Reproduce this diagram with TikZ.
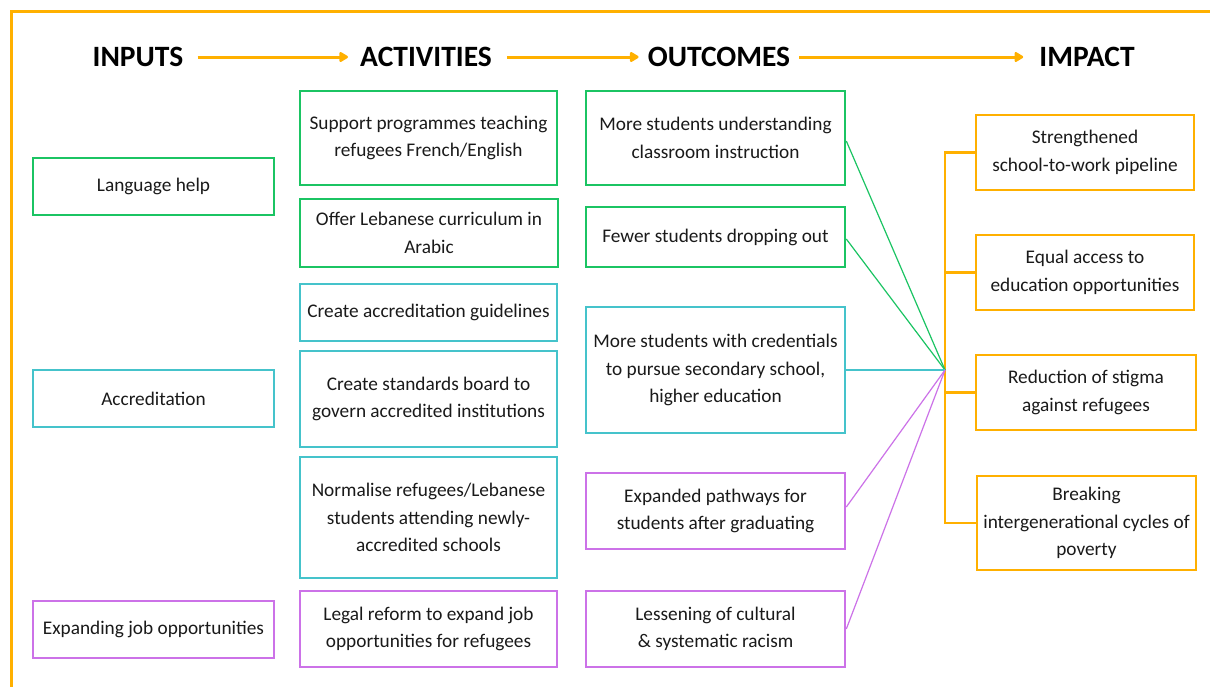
\documentclass[tikz,border=0pt]{standalone}
\usepackage{fontspec}
\setmainfont{Carlito}
\usetikzlibrary{arrows.meta}
\definecolor{grn}{HTML}{1BC463}
\definecolor{tea}{HTML}{45C3CB}
\definecolor{vio}{HTML}{CC72E8}
\definecolor{org}{HTML}{FFB000}
\definecolor{txt}{HTML}{1A1A1A}
\tikzset{
  box/.style={draw, line width=2.6pt, align=center, text=txt, inner sep=2pt,
    font=\fontsize{19.3}{27.5}\selectfont},
  gbox/.style={box, draw=grn},
  tbox/.style={box, draw=tea},
  vbox/.style={box, draw=vio},
  obox/.style={box, draw=org},
  head/.style={font=\fontsize{29.5}{31}\selectfont\bfseries, inner sep=0pt, text=black},
  harrow/.style={draw=org, line width=3pt, -{Triangle[length=10pt,width=11pt,round]}},
  conn/.style={line width=1.2pt},
}
\begin{document}
\begin{tikzpicture}[x=1pt,y=-1pt]
\useasboundingbox (0,0) rectangle (1210,686);
\fill[white] (0,0) rectangle (1210,686);
\draw[org, line width=3pt] (1212,11.5) -- (11.5,11.5) -- (11.5,688);

% headers
\node[head] (hIn) at (138,57) {INPUTS};
\node[head] (hAct) at (426,57) {ACTIVITIES};
\node[head] (hOut) at (719,57) {OUTCOMES};
\node[head] (hImp) at (1087,57) {IMPACT};
\draw[harrow] ([xshift=14pt]hIn.east) -- ([xshift=-12pt]hAct.west);
\draw[harrow] ([xshift=15pt]hAct.east) -- ([xshift=-9pt]hOut.west);
\draw[harrow] ([xshift=9pt]hOut.east) -- ([xshift=-16pt]hImp.west);

% inputs
\node[gbox, minimum width=241pt, minimum height=57pt] (in1) at (153.5,186.5) {Language help};
\node[tbox, minimum width=241pt, minimum height=57pt] (in2) at (153.5,398.5) {Accreditation};
\node[vbox, minimum width=241pt, minimum height=57pt] (in3) at (153.5,629.5) {Expanding job opportunities};

% activities
\node[gbox, minimum width=257pt, minimum height=94pt] (a1) at (428.5,138) {Support programmes teaching\\refugees French/English};
\node[gbox, minimum width=258pt, minimum height=68pt] (a2) at (429,233) {Offer Lebanese curriculum in\\Arabic};
\node[tbox, minimum width=257pt, minimum height=57pt] (a3) at (428.5,312.5) {Create accreditation guidelines};
\node[tbox, minimum width=257pt, minimum height=96pt] (a4) at (428.5,399) {Create standards board to\\govern accredited institutions};
\node[tbox, minimum width=257pt, minimum height=121pt] (a5) at (428.5,517.5) {Normalise refugees/Lebanese\\students attending newly-\\accredited schools};
\node[vbox, minimum width=257pt, minimum height=76pt] (a6) at (428.5,629) {Legal reform to expand job\\opportunities for refugees};

% outcomes
\node[gbox, minimum width=259pt, minimum height=94pt] (o1) at (715.5,138) {More students understanding\\classroom instruction};
\node[gbox, minimum width=259pt, minimum height=60pt] (o2) at (715.5,237) {Fewer students dropping out};
\node[tbox, minimum width=259pt, minimum height=126pt] (o3) at (715.5,370) {More students with credentials\\to pursue secondary school,\\higher education};
\node[vbox, minimum width=259pt, minimum height=76pt] (o4) at (715.5,511) {Expanded pathways for\\students after graduating};
\node[vbox, minimum width=259pt, minimum height=76pt] (o5) at (715.5,629) {Lessening of cultural\\\& systematic racism};

% impact
\node[obox, minimum width=218pt, minimum height=75pt] (i1) at (1085,152.5) {Strengthened\\school-to-work pipeline};
\node[obox, minimum width=218pt, minimum height=75pt] (i2) at (1085,272.5) {Equal access to\\education opportunities};
\node[obox, minimum width=220pt, minimum height=75pt] (i3) at (1086,392.5) {Reduction of stigma\\against refugees};
\node[obox, minimum width=219pt, minimum height=94pt] (i4) at (1086.5,523) {Breaking\\intergenerational cycles of\\poverty};

% bracket
\coordinate (hub) at (945,370);
\coordinate (bt) at (945,152.5);
\coordinate (bb) at (945,523);
\draw[org, line width=2.6pt, line cap=rect] (bt) -- (bb);
\draw[org, line width=2.6pt] (i1.west) -- (i1.west -| bt);
\draw[org, line width=2.6pt] (i2.west) -- (i2.west -| bt);
\draw[org, line width=2.6pt] (i3.west) -- (i3.west -| bt);
\draw[org, line width=2.6pt] (i4.west) -- (i4.west -| bt);

% connectors
\draw[conn, grn] ([yshift=-3pt]o1.east) -- (hub);
\draw[conn, grn] ([yshift=-2pt]o2.east) -- (hub);
\draw[conn, tea] (o3.east) -- (hub);
\draw[conn, vio] ([yshift=4pt]o4.east) -- (hub);
\draw[conn, vio] (o5.east) -- (hub);
\end{tikzpicture}
\end{document}
